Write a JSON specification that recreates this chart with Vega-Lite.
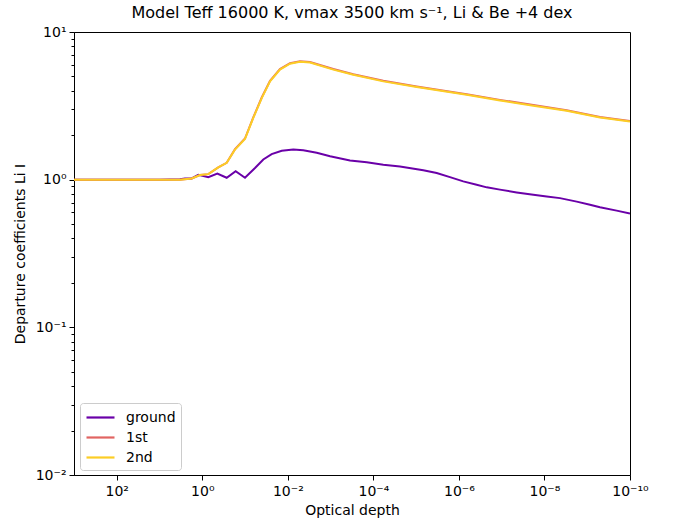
{
  "$schema": "https://vega.github.io/schema/vega-lite/v6.json",
  "width": 556,
  "height": 443,
  "autosize": {"type": "none"},
  "padding": {"left": 74, "top": 32, "right": 45, "bottom": 44},
  "background": "white",
  "title": {"text": "Model Teff 16000 K, vmax 3500 km s⁻¹, Li & Be +4 dex", "font": "DejaVu Sans", "fontSize": 16, "fontWeight": "normal", "color": "black", "offset": 4},
  "data": {"values": [
    {"level": "ground", "tau": 1000, "b": 1.0},
    {"level": "ground", "tau": 100, "b": 1.0},
    {"level": "ground", "tau": 10, "b": 1.0},
    {"level": "ground", "tau": 3.33, "b": 1.005},
    {"level": "ground", "tau": 2.54, "b": 1.02},
    {"level": "ground", "tau": 1.77, "b": 1.02},
    {"level": "ground", "tau": 1.24, "b": 1.08},
    {"level": "ground", "tau": 0.724, "b": 1.04},
    {"level": "ground", "tau": 0.446, "b": 1.10},
    {"level": "ground", "tau": 0.269, "b": 1.03},
    {"level": "ground", "tau": 0.166, "b": 1.14},
    {"level": "ground", "tau": 0.1005, "b": 1.03},
    {"level": "ground", "tau": 0.0586, "b": 1.20},
    {"level": "ground", "tau": 0.0375, "b": 1.37},
    {"level": "ground", "tau": 0.0239, "b": 1.49},
    {"level": "ground", "tau": 0.0139, "b": 1.57},
    {"level": "ground", "tau": 0.00745, "b": 1.60},
    {"level": "ground", "tau": 0.00436, "b": 1.58},
    {"level": "ground", "tau": 0.00211, "b": 1.52},
    {"level": "ground", "tau": 0.00103, "b": 1.44},
    {"level": "ground", "tau": 0.000352, "b": 1.35},
    {"level": "ground", "tau": 0.000143, "b": 1.31},
    {"level": "ground", "tau": 5.86e-5, "b": 1.26},
    {"level": "ground", "tau": 2.39e-5, "b": 1.23},
    {"level": "ground", "tau": 6.81e-6, "b": 1.16},
    {"level": "ground", "tau": 3.31e-6, "b": 1.11},
    {"level": "ground", "tau": 1.62e-6, "b": 1.04},
    {"level": "ground", "tau": 7.91e-7, "b": 0.974},
    {"level": "ground", "tau": 3.85e-7, "b": 0.925},
    {"level": "ground", "tau": 2.24e-7, "b": 0.887},
    {"level": "ground", "tau": 1.10e-7, "b": 0.856},
    {"level": "ground", "tau": 4.46e-8, "b": 0.82},
    {"level": "ground", "tau": 1.82e-8, "b": 0.79},
    {"level": "ground", "tau": 8.87e-9, "b": 0.77},
    {"level": "ground", "tau": 4.34e-9, "b": 0.75},
    {"level": "ground", "tau": 1.76e-9, "b": 0.71},
    {"level": "ground", "tau": 8.61e-10, "b": 0.677},
    {"level": "ground", "tau": 5.04e-10, "b": 0.65},
    {"level": "ground", "tau": 2.05e-10, "b": 0.617},
    {"level": "ground", "tau": 1e-10, "b": 0.59},

    {"level": "1st", "tau": 1000, "b": 1.0},
    {"level": "1st", "tau": 100, "b": 1.0},
    {"level": "1st", "tau": 10, "b": 1.0},
    {"level": "1st", "tau": 3.33, "b": 1.0},
    {"level": "1st", "tau": 1.77, "b": 1.02},
    {"level": "1st", "tau": 1.13, "b": 1.076},
    {"level": "1st", "tau": 0.724, "b": 1.09},
    {"level": "1st", "tau": 0.423, "b": 1.21},
    {"level": "1st", "tau": 0.269, "b": 1.30},
    {"level": "1st", "tau": 0.172, "b": 1.61},
    {"level": "1st", "tau": 0.1005, "b": 1.90},
    {"level": "1st", "tau": 0.0643, "b": 2.64},
    {"level": "1st", "tau": 0.0408, "b": 3.60},
    {"level": "1st", "tau": 0.0261, "b": 4.67},
    {"level": "1st", "tau": 0.0153, "b": 5.61},
    {"level": "1st", "tau": 0.00891, "b": 6.15},
    {"level": "1st", "tau": 0.0052, "b": 6.34},
    {"level": "1st", "tau": 0.00303, "b": 6.27},
    {"level": "1st", "tau": 0.000865, "b": 5.61},
    {"level": "1st", "tau": 0.000295, "b": 5.18},
    {"level": "1st", "tau": 5.86e-5, "b": 4.67},
    {"level": "1st", "tau": 9.7e-6, "b": 4.28},
    {"level": "1st", "tau": 6.58e-7, "b": 3.79},
    {"level": "1st", "tau": 1.10e-7, "b": 3.47},
    {"level": "1st", "tau": 1.82e-8, "b": 3.20},
    {"level": "1st", "tau": 3.03e-9, "b": 2.95},
    {"level": "1st", "tau": 5.04e-10, "b": 2.66},
    {"level": "1st", "tau": 1e-10, "b": 2.50},

    {"level": "2nd", "tau": 1000, "b": 1.0},
    {"level": "2nd", "tau": 100, "b": 1.0},
    {"level": "2nd", "tau": 10, "b": 1.0},
    {"level": "2nd", "tau": 3.33, "b": 1.0},
    {"level": "2nd", "tau": 1.77, "b": 1.02},
    {"level": "2nd", "tau": 1.13, "b": 1.076},
    {"level": "2nd", "tau": 0.724, "b": 1.09},
    {"level": "2nd", "tau": 0.423, "b": 1.21},
    {"level": "2nd", "tau": 0.269, "b": 1.30},
    {"level": "2nd", "tau": 0.172, "b": 1.60},
    {"level": "2nd", "tau": 0.1005, "b": 1.89},
    {"level": "2nd", "tau": 0.0643, "b": 2.62},
    {"level": "2nd", "tau": 0.0408, "b": 3.57},
    {"level": "2nd", "tau": 0.0261, "b": 4.63},
    {"level": "2nd", "tau": 0.0153, "b": 5.56},
    {"level": "2nd", "tau": 0.00891, "b": 6.10},
    {"level": "2nd", "tau": 0.0052, "b": 6.29},
    {"level": "2nd", "tau": 0.00303, "b": 6.22},
    {"level": "2nd", "tau": 0.000865, "b": 5.56},
    {"level": "2nd", "tau": 0.000295, "b": 5.14},
    {"level": "2nd", "tau": 5.86e-5, "b": 4.63},
    {"level": "2nd", "tau": 9.7e-6, "b": 4.24},
    {"level": "2nd", "tau": 6.58e-7, "b": 3.76},
    {"level": "2nd", "tau": 1.10e-7, "b": 3.44},
    {"level": "2nd", "tau": 1.82e-8, "b": 3.17},
    {"level": "2nd", "tau": 3.03e-9, "b": 2.93},
    {"level": "2nd", "tau": 5.04e-10, "b": 2.64},
    {"level": "2nd", "tau": 1e-10, "b": 2.48}
  ]},
  "mark": {"type": "line", "strokeWidth": 2, "clip": true},
  "encoding": {
    "x": {
      "field": "tau", "type": "quantitative",
      "scale": {"type": "log", "domain": [1e-10, 1000], "reverse": true, "nice": false},
      "axis": {
        "values": [100, 1, 0.01, 0.0001, 1e-6, 1e-8, 1e-10],
        "labelExpr": "'10' + replace(replace(replace(replace(replace(replace(replace('' + round(log(datum.value)/LN10), '-', '⁻'), '0', '⁰'), '1', '¹'), '2', '²'), '4', '⁴'), '6', '⁶'), '8', '⁸')",
        "title": "Optical depth",
        "titleFont": "DejaVu Sans", "titleFontSize": 14, "titleFontWeight": "normal", "titleColor": "black", "titlePadding": 5,
        "labelFont": "DejaVu Sans", "labelFontSize": 14, "labelColor": "black", "labelPadding": 4,
        "labelFlush": false, "labelOverlap": false,
        "tickColor": "black", "tickSize": 5, "domainColor": "black", "grid": false
      }
    },
    "y": {
      "field": "b", "type": "quantitative",
      "scale": {"type": "log", "domain": [0.01, 10], "nice": false},
      "axis": {
        "values": [0.01,0.02,0.03,0.04,0.05,0.06,0.07,0.08,0.09,0.1,0.2,0.3,0.4,0.5,0.6,0.7,0.8,0.9,1,2,3,4,5,6,7,8,9,10],
        "labelExpr": "abs(log(datum.value)/LN10 - round(log(datum.value)/LN10)) < 0.001 ? '10' + replace(replace(replace(replace('' + round(log(datum.value)/LN10), '-', '⁻'), '0', '⁰'), '1', '¹'), '2', '²') : ''",
        "tickSize": {"condition": {"test": "abs(log(datum.value)/LN10 - round(log(datum.value)/LN10)) < 0.001", "value": 5}, "value": 3},
        "title": "Departure coefficients Li I",
        "titleFont": "DejaVu Sans", "titleFontSize": 14, "titleFontWeight": "normal", "titleColor": "black", "titlePadding": 8,
        "labelFont": "DejaVu Sans", "labelFontSize": 14, "labelColor": "black", "labelPadding": 3,
        "labelOverlap": false, "labelFlush": false,
        "tickColor": "black", "domainColor": "black", "grid": false
      }
    },
    "color": {
      "field": "level", "type": "nominal",
      "scale": {"domain": ["ground", "1st", "2nd"], "range": ["#6a00a8", "#e16462", "#fccd25"]},
      "legend": {
        "title": null,
        "orient": "none", "legendX": 6, "legendY": 371,
        "symbolType": "M-1,0L2.5,0", "symbolSize": 256, "symbolStrokeWidth": 2.2,
        "labelFont": "DejaVu Sans", "labelFontSize": 14, "labelColor": "black", "labelOffset": 22,
        "padding": 5, "rowPadding": 3,
        "strokeColor": "#cccccc", "fillColor": "white", "cornerRadius": 3
      }
    }
  },
  "config": {"view": {"stroke": "black", "strokeWidth": 1}}
}
